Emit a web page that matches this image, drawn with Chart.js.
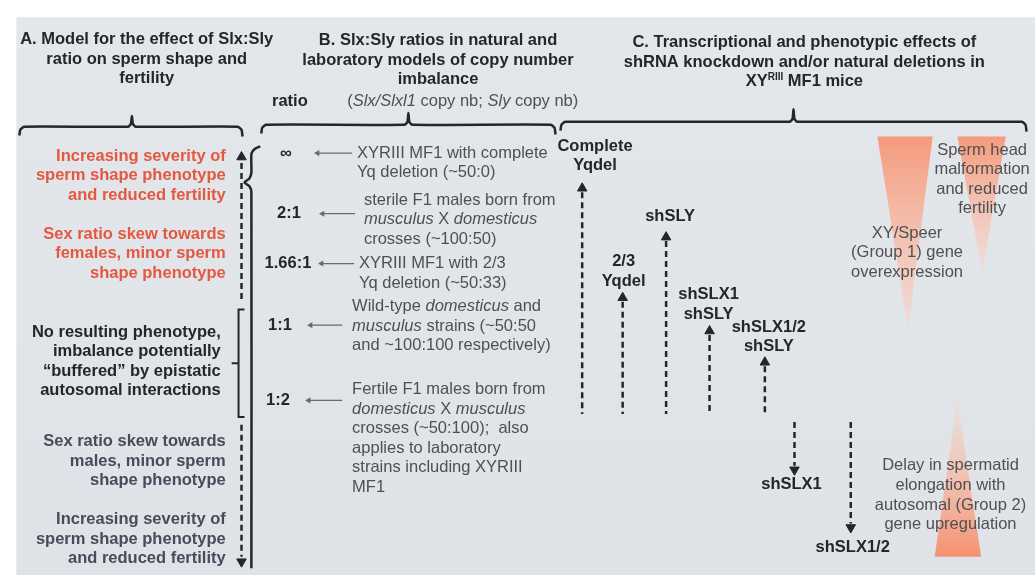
<!DOCTYPE html>
<html>
<head>
<meta charset="utf-8">
<script src="https://cdn.jsdelivr.net/npm/chart.js@4"></script>
<style>
  html, body { margin: 0; padding: 0; background: #fff; }
  canvas { display: block; }
</style>
</head>
<body>
<canvas id="diagram" width="1035" height="575"></canvas>
<script>
// ---- data ----
const titleA = ['A. Model for the effect of Slx:Sly', 'ratio on sperm shape and', 'fertility'];
const titleB = ['B. Slx:Sly ratios in natural and', 'laboratory models of copy number', 'imbalance'];
const titleC = ['C. Transcriptional and phenotypic effects of', 'shRNA knockdown and/or natural deletions in', [['XY'], ['RIII', 's'], [' MF1 mice']]];

// panel A: phenotype groups (text, colour group)
const phenotypes = [
  { lines: ['Increasing severity of', 'sperm shape phenotype', 'and reduced fertility'], tone: 'red' },
  { lines: ['Sex ratio skew towards', 'females, minor sperm', 'shape phenotype'], tone: 'red' },
  { lines: ['No resulting phenotype,', 'imbalance potentially', '\u201cbuffered\u201d by epistatic', 'autosomal interactions'], tone: 'dark' },
  { lines: ['Sex ratio skew towards', 'males, minor sperm', 'shape phenotype'], tone: 'slate' },
  { lines: ['Increasing severity of', 'sperm shape phenotype', 'and reduced fertility'], tone: 'slate' }
];

// panel B: Slx:Sly ratios and the models they come from
const ratios = ['\u221e', '2:1', '1.66:1', '1:1', '1:2'];
const models = [
  [[['XYRIII MF1 with complete']], [['Yq deletion (~50:0)']]],
  [[['sterile F1 males born from']], [['musculus', 'i'], [' X '], ['domesticus', 'i']], [['crosses (~100:50)']]],
  [[['XYRIII MF1 with 2/3']], [['Yq deletion (~50:33)']]],
  [[['Wild-type '], ['domesticus', 'i'], [' and']], [['musculus', 'i'], [' strains (~50:50']], [['and ~100:100 respectively)']]],
  [[['Fertile F1 males born from']], [['domesticus', 'i'], [' X '], ['musculus', 'i']], [['crosses (~50:100);  also']], [['applies to laboratory']], [['strains including XYRIII']], [['MF1']]]
];

// panel C: knockdowns / deletions, direction of effect
const upLabels = [['Complete', 'Yqdel'], ['2/3', 'Yqdel'], ['shSLY'], ['shSLX1', 'shSLY'], ['shSLX1/2', 'shSLY']];
const downLabels = [['shSLX1'], ['shSLX1/2']];
const effects = [
  ['Sperm head', 'malformation', 'and reduced', 'fertility'],
  ['XY/Speer', '(Group 1) gene', 'overexpression'],
  ['Delay in spermatid', 'elongation with', 'autosomal (Group 2)', 'gene upregulation']
];

// ---- layout (diagram units = pixels, y downwards) ----
const W = 1035, H = 575;
const lineGap = 20;
const fontSize = 16.5;
const phenoY = [153, 233, 333, 445, 525];
const ratioX = [283, 286, 285, 277, 275];
const ratioY = [150, 212, 263, 326, 403];
const arrowB = [[350, 312], [353, 317], [352, 316], [340, 305], [340, 303]];
const modelX = [355, 362, 357, 350, 350];
const modelY = [150, 198, 263, 307, 392];
const upX = [583, 624, 668, 712, 768];
const upTop = [186, 298, 236, 332, 364];
const upBottom = 417;
const upLabelPos = [[596, 143], [625, 261], [672, 215], [711, 295], [772, 328]];
const downX = [798, 855];
const downTop = 425;
const downBottom = [474, 533];
const downLabelPos = [[795, 489], [857, 553]];
const effectPos = [[988, 147], [912, 232], [956, 470]];

const INK = '#262626';
const GREY = '#505050';
const tones = { red: '#e4583f', dark: '#262626', slate: '#4a4a5c' };

function pt(x, y) { return { x: x, y: y }; }

const datasets = [];

// salmon wedges
function wedge(points, y0, c0, y1, c1) {
  datasets.push({
    data: points, showLine: true, fill: 'shape', borderWidth: 0, pointRadius: 0,
    backgroundColor: function(c) {
      const ch = c.chart;
      if (!ch.chartArea) return c0;
      const ys = ch.scales.y;
      const g = ch.ctx.createLinearGradient(0, ys.getPixelForValue(y0), 0, ys.getPixelForValue(y1));
      g.addColorStop(0, c0);
      g.addColorStop(1, c1);
      return g;
    }
  });
}
wedge([pt(882, 133), pt(938, 133), pt(913, 330), pt(882, 133)], 133, 'rgba(246,150,118,0.95)', 330, 'rgba(250,214,200,0.6)');
wedge([pt(963, 133), pt(1012, 133), pt(988, 272), pt(963, 133)], 133, 'rgba(246,150,118,0.95)', 272, 'rgba(250,214,200,0.5)');
wedge([pt(940, 563), pt(987, 563), pt(963, 402), pt(940, 563)], 563, 'rgba(246,140,105,0.95)', 402, 'rgba(250,214,200,0.4)');

// braces
function solid(points, width, color, tension) {
  datasets.push({ data: points, showLine: true, borderColor: color || INK, borderWidth: width || 2.5, pointRadius: 0, tension: tension || 0, fill: false });
}
function hbrace(x0, x1, xc, y, top) {
  solid([pt(x0, y + 9), pt(x0 + 1, y + 3), pt(x0 + 5, y), pt(xc - 4, y), pt(xc - 1, y - 3), pt(xc, top),
         pt(xc + 1, y - 3), pt(xc + 4, y), pt(x1 - 5, y), pt(x1 - 1, y + 3), pt(x1, y + 10)], 2.5, INK, 0.2);
}
hbrace(13, 239, 127, 123, 112);
hbrace(258, 556, 407, 121, 109);
hbrace(561, 1033, 797, 118, 105);

// vertical curly brace / rule between A and B
solid([pt(257, 143), pt(251, 146), pt(248, 151), pt(248, 170), pt(246, 176), pt(241, 180), pt(246, 184), pt(248, 190), pt(248, 575)], 2.5, INK, 0.2);
// square bracket for the buffered range
solid([pt(241, 310), pt(235, 310), pt(235, 365), pt(228, 365), pt(235, 365), pt(235, 420), pt(241, 420)], 2, INK, 0);

// dashed arrows
function dashed(x, y0, y1) {
  datasets.push({ data: [pt(x, y0), pt(x, y1)], showLine: true, borderColor: INK, borderWidth: 2.5, borderDash: [6, 4], pointRadius: 0, fill: false });
}
dashed(238, 160, 300);
dashed(238, 428, 563);
upX.forEach(function(x, i) { dashed(x, upTop[i] + 4, upBottom); });
downX.forEach(function(x, i) { dashed(x, downTop, downBottom[i] - 4); });

const heads = [pt(238, 154), pt(238, 568)];
const headRot = [0, 180];
upX.forEach(function(x, i) { heads.push(pt(x, upTop[i])); headRot.push(0); });
downX.forEach(function(x, i) { heads.push(pt(x, downBottom[i])); headRot.push(180); });
datasets.push({ data: heads, showLine: false, pointStyle: 'triangle', pointRadius: 5.5, pointRotation: headRot,
  pointBackgroundColor: INK, pointBorderColor: INK, pointBorderWidth: 1 });

// thin arrows pointing to the ratios
arrowB.forEach(function(a, i) {
  solid([pt(a[0], ratioY[i]), pt(a[1] + 3, ratioY[i])], 1.2, '#6a6a6a', 0);
});
datasets.push({ data: arrowB.map(function(a, i) { return pt(a[1] + 3, ratioY[i]); }), showLine: false,
  pointStyle: 'triangle', pointRadius: 3.5, pointRotation: 270, pointBackgroundColor: '#6a6a6a', pointBorderColor: '#6a6a6a', pointBorderWidth: 0 });

// ---- plugins ----
const backdrop = {
  id: 'backdrop',
  beforeDraw: function(chart) {
    const c = chart.ctx, xs = chart.scales.x, ys = chart.scales.y;
    c.save();
    c.fillStyle = '#ffffff';
    c.fillRect(0, 0, chart.width, chart.height);
    const x0 = xs.getPixelForValue(10), y0 = ys.getPixelForValue(11);
    const g = c.createLinearGradient(0, y0, 0, chart.height);
    g.addColorStop(0, '#e3e6ea');
    g.addColorStop(1, '#dfe2e6');
    c.fillStyle = g;
    c.fillRect(x0, y0, chart.width - x0, chart.height - y0);
    c.restore();
  }
};

function font(bold, italic, size) {
  return (italic ? 'italic ' : '') + (bold ? 'bold ' : '') + size + 'px "Liberation Sans", Arial, sans-serif';
}
function runs(line) { return typeof line === 'string' ? [[line]] : line; }

function drawLine(c, line, x, y, align, bold, color) {
  const parts = runs(line);
  let total = 0;
  parts.forEach(function(p) {
    const sup = p[1] === 's';
    c.font = font(bold, p[1] === 'i', sup ? 10 : fontSize);
    total += c.measureText(p[0]).width;
  });
  let cx = align === 'center' ? x - total / 2 : (align === 'right' ? x - total : x);
  c.fillStyle = color;
  c.textAlign = 'left';
  c.textBaseline = 'middle';
  parts.forEach(function(p) {
    const sup = p[1] === 's';
    c.font = font(bold, p[1] === 'i', sup ? 10 : fontSize);
    c.fillText(p[0], cx, sup ? y - 5 : y);
    cx += c.measureText(p[0]).width;
  });
}

function drawBlock(chart, lines, x, y, align, bold, color) {
  const c = chart.ctx, xs = chart.scales.x, ys = chart.scales.y;
  lines.forEach(function(line, i) {
    drawLine(c, line, xs.getPixelForValue(x), ys.getPixelForValue(y + i * lineGap), align, bold, color);
  });
}

const labels = {
  id: 'labels',
  afterDatasetsDraw: function(chart) {
    const c = chart.ctx;
    c.save();
    drawBlock(chart, titleA, 142, 34, 'center', true, INK);
    drawBlock(chart, titleB, 437, 35, 'center', true, INK);
    drawBlock(chart, titleC, 808, 37, 'center', true, INK);
    drawBlock(chart, ['ratio'], 287, 97, 'center', true, INK);
    drawBlock(chart, [[['('], ['Slx/Slxl1', 'i'], [' copy nb; '], ['Sly', 'i'], [' copy nb)']]], 462, 97, 'center', false, GREY);

    phenotypes.forEach(function(p, i) {
      drawBlock(chart, p.lines, p.tone === 'dark' ? 217 : 222, phenoY[i], 'right', true, tones[p.tone]);
    });

    ratios.forEach(function(r, i) {
      drawBlock(chart, [r], ratioX[i], ratioY[i], 'center', true, INK);
      drawBlock(chart, models[i], modelX[i], modelY[i], 'left', false, GREY);
    });

    upLabels.forEach(function(l, i) {
      drawBlock(chart, l, upLabelPos[i][0], upLabelPos[i][1], 'center', true, INK);
    });
    downLabels.forEach(function(l, i) {
      drawBlock(chart, l, downLabelPos[i][0], downLabelPos[i][1], 'center', true, INK);
    });
    effects.forEach(function(l, i) {
      drawBlock(chart, l, effectPos[i][0], effectPos[i][1], 'center', false, GREY);
    });
    c.restore();
  }
};

const chart = new Chart(document.getElementById('diagram').getContext('2d'), {
  type: 'scatter',
  data: { datasets: datasets },
  options: {
    responsive: false,
    animation: false,
    devicePixelRatio: 1,
    layout: { padding: 0 },
    events: [],
    plugins: { legend: { display: false }, tooltip: { enabled: false } },
    scales: {
      x: { type: 'linear', min: 0, max: W, display: false },
      y: { type: 'linear', min: 0, max: H, reverse: true, display: false }
    }
  },
  plugins: [backdrop, labels]
});
</script>
</body>
</html>
